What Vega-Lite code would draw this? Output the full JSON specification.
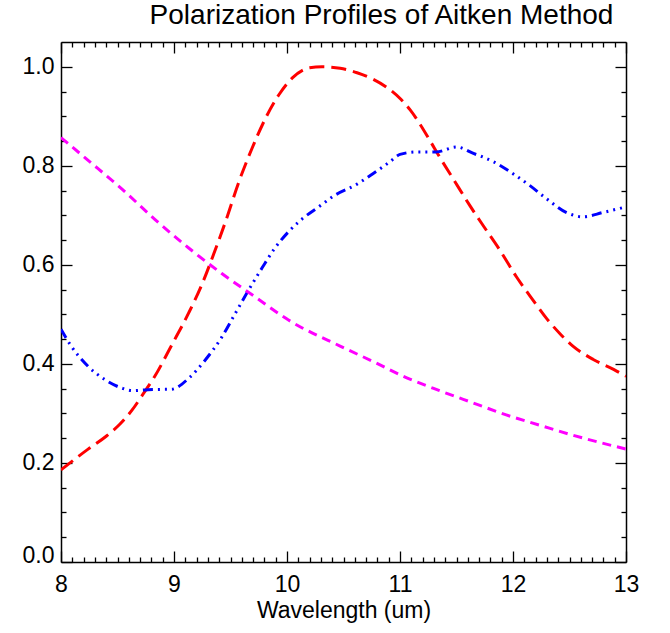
{
  "$schema": "https://vega.github.io/schema/vega-lite/v6.json",
  "width": 565,
  "height": 520,
  "autosize": {"type": "none"},
  "padding": {"left": 61, "top": 42, "right": 44, "bottom": 71},
  "background": "white",
  "title": {
    "text": "Polarization Profiles of Aitken Method",
    "font": "Liberation Sans",
    "fontSize": 28,
    "fontWeight": "normal",
    "color": "black",
    "anchor": "middle",
    "dx": 38,
    "offset": 11
  },
  "config": {
    "view": {"stroke": null},
    "axis": {
      "grid": false,
      "domainColor": "black",
      "domainWidth": 1.5,
      "tickColor": "black",
      "tickWidth": 1.3,
      "labelFont": "Liberation Sans",
      "labelFontSize": 23,
      "labelColor": "black",
      "titleFont": "Liberation Sans",
      "titleFontSize": 23,
      "titleFontWeight": "normal",
      "titleColor": "black"
    }
  },
  "data": {
    "values": [
      {"series": "Red", "w": 8.0, "v": 0.186},
      {"series": "Red", "w": 8.24, "v": 0.228},
      {"series": "Red", "w": 8.4, "v": 0.254},
      {"series": "Red", "w": 8.52, "v": 0.278},
      {"series": "Red", "w": 8.63, "v": 0.307},
      {"series": "Red", "w": 8.72, "v": 0.337},
      {"series": "Red", "w": 8.83, "v": 0.375},
      {"series": "Red", "w": 8.98, "v": 0.438},
      {"series": "Red", "w": 9.13, "v": 0.503},
      {"series": "Red", "w": 9.25, "v": 0.562},
      {"series": "Red", "w": 9.34, "v": 0.615},
      {"series": "Red", "w": 9.46, "v": 0.69},
      {"series": "Red", "w": 9.57, "v": 0.765},
      {"series": "Red", "w": 9.69, "v": 0.835},
      {"series": "Red", "w": 9.81, "v": 0.896},
      {"series": "Red", "w": 9.93, "v": 0.944},
      {"series": "Red", "w": 10.05, "v": 0.978},
      {"series": "Red", "w": 10.2, "v": 0.998},
      {"series": "Red", "w": 10.31, "v": 1.0},
      {"series": "Red", "w": 10.47, "v": 0.997},
      {"series": "Red", "w": 10.62, "v": 0.988},
      {"series": "Red", "w": 10.76, "v": 0.975},
      {"series": "Red", "w": 10.91, "v": 0.954},
      {"series": "Red", "w": 11.01, "v": 0.934},
      {"series": "Red", "w": 11.09, "v": 0.913},
      {"series": "Red", "w": 11.18, "v": 0.883},
      {"series": "Red", "w": 11.27, "v": 0.849},
      {"series": "Red", "w": 11.35, "v": 0.818},
      {"series": "Red", "w": 11.47, "v": 0.774},
      {"series": "Red", "w": 11.62, "v": 0.719},
      {"series": "Red", "w": 11.74, "v": 0.678},
      {"series": "Red", "w": 11.88, "v": 0.631},
      {"series": "Red", "w": 12.03, "v": 0.576},
      {"series": "Red", "w": 12.18, "v": 0.528},
      {"series": "Red", "w": 12.3, "v": 0.491},
      {"series": "Red", "w": 12.42, "v": 0.46},
      {"series": "Red", "w": 12.53, "v": 0.436},
      {"series": "Red", "w": 12.71, "v": 0.409},
      {"series": "Red", "w": 12.89, "v": 0.389},
      {"series": "Red", "w": 13.0, "v": 0.375},
      {"series": "Blue", "w": 8.0, "v": 0.47},
      {"series": "Blue", "w": 8.09, "v": 0.436},
      {"series": "Blue", "w": 8.24, "v": 0.395},
      {"series": "Blue", "w": 8.39, "v": 0.368},
      {"series": "Blue", "w": 8.54, "v": 0.351},
      {"series": "Blue", "w": 8.63, "v": 0.346},
      {"series": "Blue", "w": 8.77, "v": 0.348},
      {"series": "Blue", "w": 8.98, "v": 0.349},
      {"series": "Blue", "w": 9.13, "v": 0.371},
      {"series": "Blue", "w": 9.27, "v": 0.406},
      {"series": "Blue", "w": 9.42, "v": 0.453},
      {"series": "Blue", "w": 9.54, "v": 0.501},
      {"series": "Blue", "w": 9.66, "v": 0.549},
      {"series": "Blue", "w": 9.78, "v": 0.594},
      {"series": "Blue", "w": 9.89, "v": 0.633},
      {"series": "Blue", "w": 10.01, "v": 0.666},
      {"series": "Blue", "w": 10.13, "v": 0.692},
      {"series": "Blue", "w": 10.28, "v": 0.717},
      {"series": "Blue", "w": 10.42, "v": 0.74},
      {"series": "Blue", "w": 10.62, "v": 0.763},
      {"series": "Blue", "w": 10.76, "v": 0.784},
      {"series": "Blue", "w": 10.91, "v": 0.808},
      {"series": "Blue", "w": 11.0, "v": 0.823},
      {"series": "Blue", "w": 11.15, "v": 0.828},
      {"series": "Blue", "w": 11.32, "v": 0.828},
      {"series": "Blue", "w": 11.5, "v": 0.838},
      {"series": "Blue", "w": 11.65, "v": 0.825},
      {"series": "Blue", "w": 11.83, "v": 0.808},
      {"series": "Blue", "w": 12.0, "v": 0.784},
      {"series": "Blue", "w": 12.15, "v": 0.76},
      {"series": "Blue", "w": 12.3, "v": 0.733},
      {"series": "Blue", "w": 12.47, "v": 0.706},
      {"series": "Blue", "w": 12.62, "v": 0.697},
      {"series": "Blue", "w": 12.8, "v": 0.706},
      {"series": "Blue", "w": 13.0, "v": 0.717},
      {"series": "Magenta", "w": 8.0, "v": 0.857},
      {"series": "Magenta", "w": 8.24, "v": 0.811},
      {"series": "Magenta", "w": 8.54, "v": 0.753},
      {"series": "Magenta", "w": 8.83, "v": 0.692},
      {"series": "Magenta", "w": 9.13, "v": 0.634},
      {"series": "Magenta", "w": 9.42, "v": 0.583},
      {"series": "Magenta", "w": 9.72, "v": 0.535},
      {"series": "Magenta", "w": 10.01, "v": 0.489},
      {"series": "Magenta", "w": 10.47, "v": 0.436},
      {"series": "Magenta", "w": 10.76, "v": 0.405},
      {"series": "Magenta", "w": 11.06, "v": 0.372},
      {"series": "Magenta", "w": 11.35, "v": 0.346},
      {"series": "Magenta", "w": 11.65, "v": 0.321},
      {"series": "Magenta", "w": 11.94, "v": 0.297},
      {"series": "Magenta", "w": 12.24, "v": 0.276},
      {"series": "Magenta", "w": 12.53, "v": 0.256},
      {"series": "Magenta", "w": 13.0, "v": 0.228}
    ]
  },
  "resolve": {"axis": {"x": "independent", "y": "independent"}},
  "layer": [
    {
      "mark": {"type": "line", "strokeWidth": 3, "interpolate": "monotone", "clip": true},
      "encoding": {
        "x": {
          "field": "w", "type": "quantitative",
          "scale": {"domain": [8, 13], "nice": false, "zero": false},
          "axis": {
            "orient": "bottom",
            "title": "Wavelength (um)",
            "titlePadding": -3,
            "tickCount": 200,
            "labelOverlap": false,
            "labelFlush": false,
            "labelBound": false,
            "values": [8,8.1,8.2,8.3,8.4,8.5,8.6,8.7,8.8,8.9,9,9.1,9.2,9.3,9.4,9.5,9.6,9.7,9.8,9.9,10,10.1,10.2,10.3,10.4,10.5,10.6,10.7,10.8,10.9,11,11.1,11.2,11.3,11.4,11.5,11.6,11.7,11.8,11.9,12,12.1,12.2,12.3,12.4,12.5,12.6,12.7,12.8,12.9,13],
            "labelExpr": "abs(datum.value - round(datum.value)) < 1e-6 ? format(datum.value, 'd') : ''",
            "tickSize": {"condition": {"test": "abs(datum.value - round(datum.value)) < 1e-6", "value": -11}, "value": -5},
            "labelPadding": 22
          }
        },
        "y": {
          "field": "v", "type": "quantitative",
          "scale": {"domain": [0, 1.05], "nice": false, "zero": false},
          "axis": {
            "orient": "left",
            "title": null,
            "tickCount": 200,
            "labelOverlap": false,
            "labelFlush": false,
            "labelBound": false,
            "values": [0,0.05,0.1,0.15,0.2,0.25,0.3,0.35,0.4,0.45,0.5,0.55,0.6,0.65,0.7,0.75,0.8,0.85,0.9,0.95,1.0],
            "labelExpr": "abs(datum.value*5 - round(datum.value*5)) < 1e-6 ? format(datum.value, '.1f') : ''",
            "tickSize": {"condition": {"test": "abs(datum.value*5 - round(datum.value*5)) < 1e-6", "value": -11}, "value": -5},
            "labelBaseline": {"condition": {"test": "datum.value === 0", "value": "alphabetic"}, "value": "middle"},
            "labelPadding": 18
          }
        },
        "color": {
          "field": "series", "type": "nominal", "legend": null,
          "scale": {"domain": ["Red", "Blue", "Magenta"], "range": ["#ff0000", "#0000ff", "#ff00ff"]}
        },
        "strokeDash": {
          "field": "series", "type": "nominal", "legend": null,
          "scale": {"domain": ["Red", "Blue", "Magenta"], "range": [[15, 7], [10, 5, 2, 5, 2, 5, 2, 5], [9, 6]]}
        }
      }
    },
    {
      "mark": {"type": "line", "opacity": 0},
      "encoding": {
        "x": {
          "field": "w", "type": "quantitative",
          "axis": {
            "orient": "top",
            "title": null,
            "labels": false,
            "tickCount": 200,
            "values": [8,8.1,8.2,8.3,8.4,8.5,8.6,8.7,8.8,8.9,9,9.1,9.2,9.3,9.4,9.5,9.6,9.7,9.8,9.9,10,10.1,10.2,10.3,10.4,10.5,10.6,10.7,10.8,10.9,11,11.1,11.2,11.3,11.4,11.5,11.6,11.7,11.8,11.9,12,12.1,12.2,12.3,12.4,12.5,12.6,12.7,12.8,12.9,13],
            "tickSize": {"condition": {"test": "abs(datum.value - round(datum.value)) < 1e-6", "value": -11}, "value": -5}
          }
        },
        "y": {
          "field": "v", "type": "quantitative",
          "axis": {
            "orient": "right",
            "title": null,
            "labels": false,
            "tickCount": 200,
            "values": [0,0.05,0.1,0.15,0.2,0.25,0.3,0.35,0.4,0.45,0.5,0.55,0.6,0.65,0.7,0.75,0.8,0.85,0.9,0.95,1.0],
            "tickSize": {"condition": {"test": "abs(datum.value*5 - round(datum.value*5)) < 1e-6", "value": -11}, "value": -5}
          }
        },
        "detail": {"field": "series", "type": "nominal"}
      }
    }
  ]
}
